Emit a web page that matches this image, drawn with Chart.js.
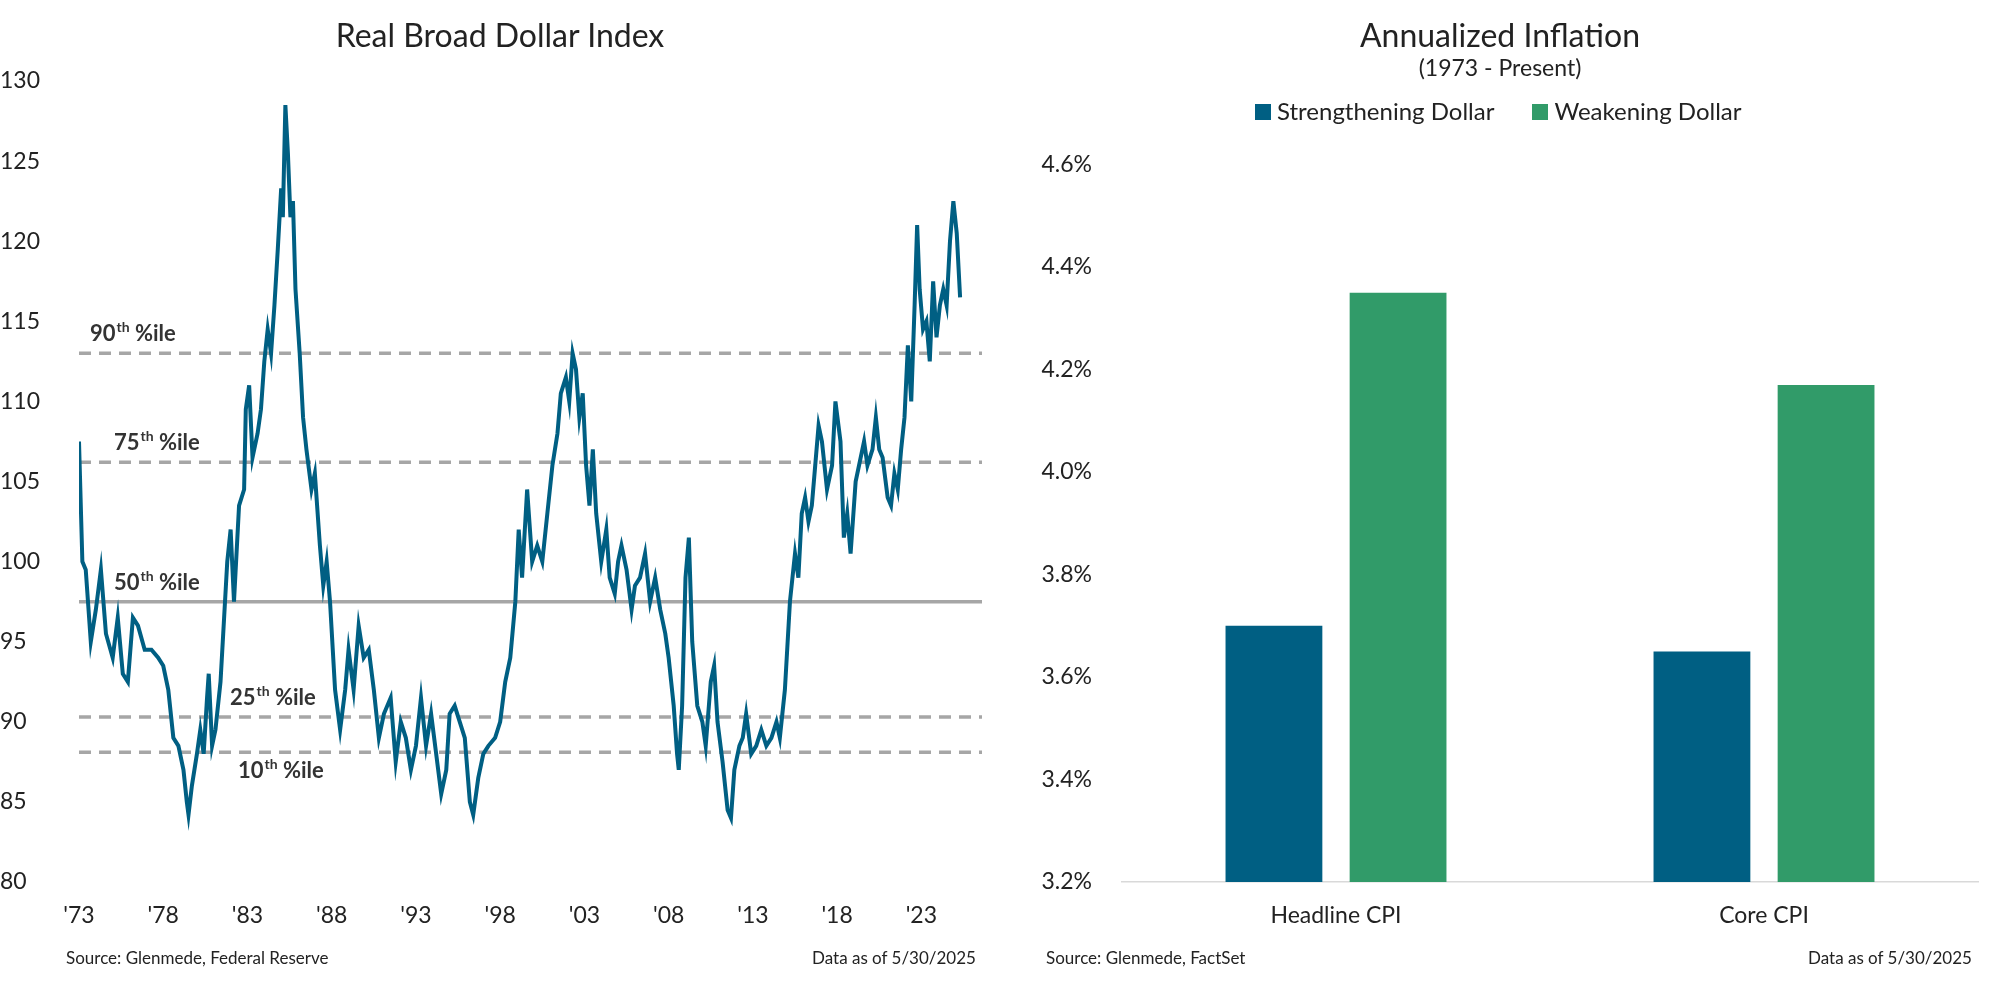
<!DOCTYPE html>
<html><head><meta charset="utf-8">
<script src="https://cdn.jsdelivr.net/npm/chart.js@4.4.0/dist/chart.umd.min.js"></script>
<style>
body{margin:0;background:#fff;font-family:Lato,sans-serif;}
#wrap{position:relative;width:2000px;height:981px;}
canvas{position:absolute;top:0;}
.t{position:absolute;color:#222;white-space:nowrap;}
</style></head><body><div id="wrap">
<canvas id="c1" width="1000" height="981" style="left:0;width:1000px;height:981px"></canvas>
<canvas id="c2" width="1000" height="981" style="left:1000px;width:1000px;height:981px"></canvas>
<div class="t" style="left:0;width:1000px;text-align:center;top:15px;font-size:32px">Real Broad Dollar Index</div>
<div class="t" style="left:1000px;width:1000px;text-align:center;top:15px;font-size:32px">Annualized Inflation</div>
<div class="t" style="left:1000px;width:1000px;text-align:center;top:53px;font-size:23px">(1973 - Present)</div>
<div class="t" style="left:1255px;top:96px;font-size:24px"><span style="display:inline-block;width:16px;height:16px;background:#005F83;margin-right:6px"></span>Strengthening Dollar<span style="display:inline-block;width:16px;height:16px;background:#319B69;margin:0 6px 0 38px"></span>Weakening Dollar</div>
<div class="t" style="left:66px;top:947px;font-size:17px">Source: Glenmede, Federal Reserve</div>
<div class="t" style="left:812px;top:947px;font-size:17px">Data as of 5/30/2025</div>
<div class="t" style="left:1046px;top:947px;font-size:17px">Source: Glenmede, FactSet</div>
<div class="t" style="left:1808px;top:947px;font-size:17px">Data as of 5/30/2025</div>
</div>
<script>
const years=[1973.0,1973.2,1973.4,1973.7,1974.0,1974.3,1974.6,1975.0,1975.3,1975.6,1975.9,1976.2,1976.5,1976.9,1977.3,1977.7,1978.0,1978.3,1978.6,1978.9,1979.2,1979.4,1979.5,1979.7,1980.0,1980.2,1980.4,1980.6,1980.7,1980.9,1981.1,1981.4,1981.8,1982.0,1982.2,1982.5,1982.8,1982.9,1983.1,1983.3,1983.6,1983.8,1984.0,1984.2,1984.4,1984.6,1984.8,1985.0,1985.1,1985.25,1985.4,1985.55,1985.7,1985.85,1986.1,1986.3,1986.5,1986.8,1987.0,1987.3,1987.5,1987.7,1987.9,1988.2,1988.5,1988.8,1989.0,1989.3,1989.6,1989.9,1990.2,1990.5,1990.8,1991.1,1991.5,1991.8,1992.1,1992.4,1992.7,1993.0,1993.3,1993.6,1993.9,1994.2,1994.5,1994.8,1995.0,1995.3,1995.6,1995.9,1996.2,1996.4,1996.7,1997.0,1997.3,1997.7,1998.0,1998.3,1998.6,1998.9,1999.1,1999.3,1999.6,1999.9,2000.2,2000.5,2000.8,2001.1,2001.4,2001.6,2001.9,2002.1,2002.3,2002.5,2002.7,2002.9,2003.1,2003.3,2003.5,2003.7,2004.0,2004.3,2004.5,2004.8,2005.0,2005.2,2005.5,2005.8,2006.0,2006.3,2006.6,2006.9,2007.2,2007.5,2007.8,2008.0,2008.3,2008.5,2008.6,2008.8,2009.0,2009.2,2009.4,2009.7,2010.0,2010.2,2010.5,2010.7,2010.9,2011.2,2011.5,2011.7,2011.9,2012.2,2012.4,2012.6,2012.9,2013.2,2013.5,2013.8,2014.1,2014.4,2014.6,2014.9,2015.2,2015.5,2015.7,2015.9,2016.1,2016.3,2016.5,2016.7,2016.9,2017.1,2017.4,2017.7,2017.9,2018.2,2018.4,2018.6,2018.8,2019.1,2019.3,2019.6,2019.8,2020.1,2020.3,2020.5,2020.7,2021.0,2021.2,2021.4,2021.6,2021.8,2022.0,2022.2,2022.4,2022.6,2022.75,2022.9,2023.1,2023.3,2023.5,2023.7,2023.9,2024.1,2024.3,2024.5,2024.7,2024.9,2025.1,2025.3];
const dollarIndex=[107.5,100,99.5,95,97,99.5,95.5,94,96.5,93,92.5,96.5,96,94.5,94.5,94,93.5,92,89,88.5,87,85,84.2,86,88,89.5,88,91.5,93,88.5,89.5,92.5,100,102,97.5,103.5,104.5,109.5,111,106.5,108,109.5,112.5,114.5,113,116,119.5,123.3,121.5,128.5,125.5,121.5,122.5,117,113,109,107,104.5,105.5,101,98.5,100,97.5,92,89.5,92,94.5,92,96,94,94.5,92,89,90.5,91.5,87.5,90,89,87,88.5,91.5,88.5,90.5,88,85.5,87,90.5,91,90,89,85,84.2,86.5,88,88.5,89,90,92.5,94,97.5,102,99,104.5,100,101,100,103,106,108,110.5,111.5,110,113,112,109,110.5,106,103.5,107,103,100,102,99,98,100,101,99.5,97,98.5,99,100.5,97.5,99,97,95.5,94,91,88,87,91,99,101.5,95,91,90,88.5,92.5,93.5,90,87.5,84.5,84,87,88.5,89,90.5,88,88.5,89.5,88.5,89,90,89,92,97.5,100.5,99,103,104,102.5,103.5,106,108.5,107.5,104.5,106,110,107.5,101.5,103,100.5,105,106,107.5,106,107,109,107,106.5,104,103.5,105.5,104.5,107,109,113.5,110,116,121,117,114.5,115,112.5,117.5,114,116,117,116,120,122.5,120.5,116.5];
const pctNames=['90','75','50','25','10'];
const pctValues=[113.0,106.2,97.5,90.3,88.1];
const yTicksLeft=[80,85,90,95,100,105,110,115,120,125,130];
const xTickYears=[1973,1978,1983,1988,1993,1998,2003,2008,2013,2018,2023];
const barCategories=['Headline CPI','Core CPI'];
const strengthening=[3.70,3.65];
const weakening=[4.35,4.17];
const yTicksRight=[3.2,3.4,3.6,3.8,4.0,4.2,4.4,4.6];

const BLUE='#005F83',GREEN='#319B69',GRAY='#A6A6A6';
Chart.defaults.font.family='Lato';
Chart.defaults.color='#222';

const pctLabelPos=[[90,-12],[114,-12],[114,-12],[230,-12],[238,26]];
const pctPlugin={id:'pct',afterDatasetsDraw(ch){
  const c=ch.ctx,ys=ch.scales.y;c.save();c.fillStyle='#333';c.textBaseline='alphabetic';
  pctNames.forEach((n,i)=>{
    let x=pctLabelPos[i][0],y=ys.getPixelForValue(pctValues[i])+pctLabelPos[i][1];
    c.font='bold 22px Lato';c.fillText(n,x,y);let w=c.measureText(n).width;
    c.font='bold 14px Lato';c.fillText('th',x+w+1,y-9);let w2=c.measureText('th').width;
    c.font='bold 22px Lato';c.fillText(' %ile',x+w+w2+1,y);
  });c.restore();}};

const lineData=years.map((x,i)=>({x,y:dollarIndex[i]}));
const pctSets=pctValues.map((v,i)=>({data:[{x:1973,y:v},{x:2026.6,y:v}],borderColor:GRAY,borderWidth:3.5,borderDash:i===2?[]:[12,8],pointRadius:0,order:2}));
new Chart(document.getElementById('c1'),{type:'line',
 data:{datasets:[...pctSets,{data:lineData,borderColor:BLUE,borderWidth:4,pointRadius:0,tension:0,order:1}]},
 options:{responsive:false,animation:false,layout:{padding:{top:81,right:18,left:0,bottom:0}},
  plugins:{legend:{display:false},tooltip:{enabled:false}},
  scales:{
   x:{type:'linear',min:1973,max:2026.6,grid:{display:false},border:{display:false},
      afterBuildTicks(a){a.ticks=xTickYears.map(v=>({value:v}));},
      ticks:{font:{size:23},padding:12,callback:v=>"'"+String(v).slice(2)},afterFit(a){a.height=99;}},
   y:{min:80,max:130,grid:{display:false},border:{display:false},
      afterBuildTicks(a){a.ticks=yTicksLeft.map(v=>({value:v}));},
      ticks:{font:{size:23},crossAlign:'far'},afterFit(a){a.width=79;}}
  }},plugins:[pctPlugin]});

new Chart(document.getElementById('c2'),{type:'bar',
 data:{labels:barCategories,datasets:[
  {label:'Strengthening Dollar',data:strengthening,backgroundColor:BLUE,categoryPercentage:0.58,barPercentage:0.78},
  {label:'Weakening Dollar',data:weakening,backgroundColor:GREEN,categoryPercentage:0.58,barPercentage:0.78}]},
 options:{responsive:false,animation:false,layout:{padding:{top:62,right:22,left:0,bottom:0}},
  plugins:{legend:{display:false},tooltip:{enabled:false}},
  scales:{
   x:{grid:{display:false},border:{display:true,color:'#D9D9D9',width:1.5},ticks:{font:{size:23},padding:12},afterFit(a){a.height=99;}},
   y:{min:3.2,max:4.8,grid:{display:false},border:{display:false},
      afterBuildTicks(a){a.ticks=yTicksRight.map(v=>({value:v}));},
      ticks:{font:{size:23},padding:22,callback:v=>v.toFixed(1)+'%'},afterFit(a){a.width=122;}}
  }}});
</script></body></html>
